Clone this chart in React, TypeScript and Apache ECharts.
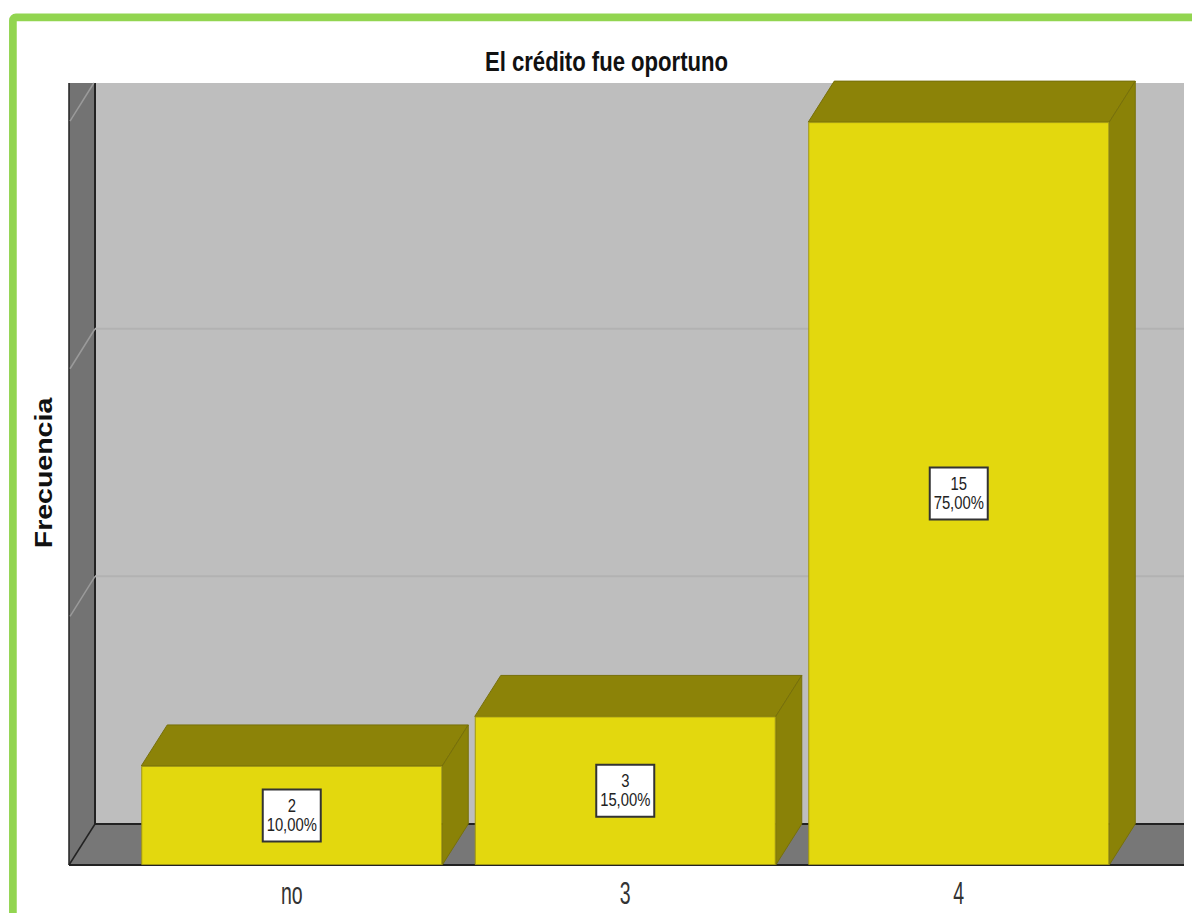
import React, { useEffect, useRef } from "react";
import * as echarts from "echarts";

const categories = ["no", "3", "4"];
const frequencies = [2, 3, 15];
const percentLabels = ["10,00%", "15,00%", "75,00%"];
const gridTicks = [5, 10, 15];
const titleText = "El crédito fue oportuno";
const yAxisName = "Frecuencia";

const W = 1192, H = 913;
const plotLeft = 125, plotRight = 1125.5, plotTop = 83, plotBottom = 865;
const wallFrontX = 69, wallBackX = 95, wallRight = 1184, floorBackY = 824;
const depthX = 26, depthY = -41, barW = 301;
const yMax = 15.79;
const sansFont = "'Liberation Sans', Arial, sans-serif";

const frontFace = "#e3d80e", topFace = "#8c8308", sideFace = "#8a8207", faceEdge = "#77700a";
const dark = "#222222";

function barFaces(_: any, api: any) {
  const c = api.value(0), v = api.value(1);
  const p = api.coord([c, v]);
  const x0 = p[0] - barW / 2, x1 = p[0] + barW / 2, y = p[1];
  const base = api.coord([c, 0])[1];
  const style = { lineWidth: 1, stroke: faceEdge };
  return {
    type: "group",
    children: [
      { type: "polygon", shape: { points: [[x0, y], [x0 + depthX, y + depthY], [x1 + depthX, y + depthY], [x1, y]] }, style: { ...style, fill: topFace } },
      { type: "polygon", shape: { points: [[x1, y], [x1 + depthX, y + depthY], [x1 + depthX, base + depthY], [x1, base]] }, style: { ...style, fill: sideFace } },
    ],
  };
}

function barLabels(params: any, api: any) {
  const c = api.value(0), v = api.value(1);
  const x = api.coord([c, v])[0];
  const cy = (api.coord([c, v])[1] + api.coord([c, 0])[1]) / 2;
  return {
    type: "group",
    children: [
      { type: "rect", shape: { x: x - 29, y: cy - 26, width: 58, height: 52 }, style: { fill: "#ffffff", stroke: "#333333", lineWidth: 2 } },
      {
        type: "text", x, y: cy, scaleX: 0.78,
        style: {
          text: `${v}\n${percentLabels[params.dataIndex]}`,
          font: `19px ${sansFont}`, lineHeight: 19, fill: "#222222", align: "center", verticalAlign: "middle",
        },
      },
    ],
  };
}

function categoryLabels(params: any, api: any) {
  const c = api.value(0);
  const x = api.coord([c, 0])[0];
  return {
    type: "text", x, y: 893, scaleX: 0.63,
    style: { text: categories[params.dataIndex], font: `31px ${sansFont}`, fill: "#333333", align: "center", verticalAlign: "middle" },
  };
}

function gridMarks(_: any, api: any) {
  const t = api.value(1);
  const fy = api.coord([0, t])[1];
  let by = fy + depthY, bx = wallBackX;
  const children: any[] = [];
  if (by >= plotTop) {
    children.push({ type: "line", shape: { x1: wallBackX, y1: by, x2: wallRight, y2: by }, style: { stroke: "#b2b2b2", lineWidth: 2 } });
  } else {
    const k = (fy - plotTop) / (fy - by);
    bx = wallFrontX + (wallBackX - wallFrontX) * k;
    by = plotTop;
  }
  children.push({ type: "line", shape: { x1: wallFrontX + 1, y1: fy - 1, x2: bx, y2: by }, style: { stroke: "#9a9a9a", lineWidth: 1.5 } });
  return { type: "group", children };
}

export default function App() {
  const ref = useRef<HTMLDivElement>(null);
  useEffect(() => {
    const chart = echarts.init(ref.current!, null, { renderer: "svg" });
    chart.setOption({
      animation: false,
      backgroundColor: "#ffffff",
      grid: { left: plotLeft, right: W - plotRight, top: plotTop, bottom: H - plotBottom },
      xAxis: {
        type: "category", data: categories,
        axisLine: { show: false }, axisTick: { show: false }, splitLine: { show: false }, axisLabel: { show: false },
      },
      yAxis: {
        type: "value", min: 0, max: yMax,
        axisLine: { show: false }, axisTick: { show: false }, axisLabel: { show: false }, splitLine: { show: false },
      },
      graphic: [
        { type: "rect", z: 0, shape: { x: 12.9, y: 17.3, width: 1400, height: 1200, r: 3 }, style: { fill: "#ffffff", stroke: "#92d550", lineWidth: 7.7 } },
        { type: "rect", z: 0, shape: { x: wallBackX, y: plotTop, width: wallRight - wallBackX, height: floorBackY - plotTop }, style: { fill: "#bebebe" } },
        { type: "polygon", z: 0, shape: { points: [[wallFrontX, plotTop], [wallBackX, plotTop], [wallBackX, floorBackY], [wallFrontX, plotBottom]] }, style: { fill: "#737373" } },
        { type: "polygon", z: 0, shape: { points: [[wallFrontX, plotBottom], [wallBackX, floorBackY], [wallRight, floorBackY], [wallRight, plotBottom]] }, style: { fill: "#777777" } },
        { type: "line", z: 0, shape: { x1: wallBackX, y1: plotTop, x2: wallBackX, y2: floorBackY }, style: { stroke: dark, lineWidth: 2 } },
        { type: "line", z: 0, shape: { x1: wallFrontX, y1: plotTop, x2: wallFrontX, y2: plotBottom }, style: { stroke: dark, lineWidth: 1.5 } },
        { type: "line", z: 0, shape: { x1: wallBackX, y1: floorBackY, x2: wallRight, y2: floorBackY }, style: { stroke: dark, lineWidth: 2 } },
        { type: "line", z: 0, shape: { x1: wallFrontX, y1: plotBottom, x2: wallRight, y2: plotBottom }, style: { stroke: dark, lineWidth: 2 } },
        { type: "line", z: 0, shape: { x1: wallFrontX, y1: plotBottom, x2: wallBackX, y2: floorBackY }, style: { stroke: dark, lineWidth: 1.5 } },
        {
          type: "text", z: 10, x: 606.5, y: 61, scaleX: 0.79,
          style: { text: titleText, font: `bold 28px ${sansFont}`, fill: "#111111", align: "center", verticalAlign: "middle" },
        },
        {
          type: "text", z: 10, x: 44, y: 473, rotation: Math.PI / 2, scaleX: 1.24,
          style: { text: yAxisName, font: `bold 23px ${sansFont}`, fill: "#111111", align: "center", verticalAlign: "middle" },
        },
      ],
      series: [
        { type: "custom", z: 1, silent: true, renderItem: gridMarks, data: gridTicks.map((t) => [0, t]) },
        { type: "custom", z: 2, silent: true, renderItem: barFaces, data: frequencies.map((v, i) => [i, v]) },
        {
          type: "bar", z: 3, silent: true, barWidth: barW, data: frequencies,
          itemStyle: { color: frontFace, borderColor: "#a09710", borderWidth: 1 },
        },
        { type: "custom", z: 4, silent: true, renderItem: barLabels, data: frequencies.map((v, i) => [i, v]) },
        { type: "custom", z: 4, silent: true, renderItem: categoryLabels, data: categories.map((_, i) => [i, 0]) },
      ],
    });
    return () => chart.dispose();
  }, []);
  return <div ref={ref} style={{ position: "fixed", left: 0, top: 0, width: W, height: H }} />;
}
